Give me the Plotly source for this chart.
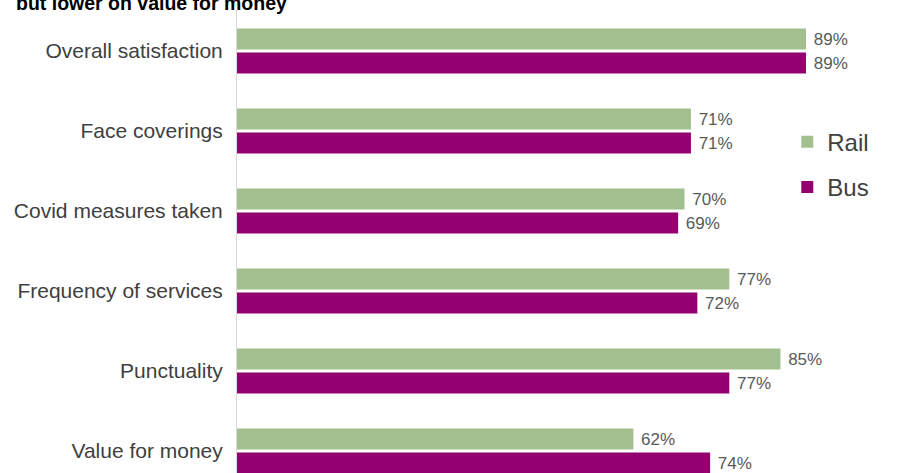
import plotly.graph_objects as go

# Survey measures, listed top to bottom
categories = [
    "Overall satisfaction",
    "Face coverings",
    "Covid measures taken",
    "Frequency of services",
    "Punctuality",
    "Value for money",
]
rail_pct = [89, 71, 70, 77, 85, 62]
bus_pct = [89, 71, 69, 72, 77, 74]

RAIL_COLOR = "#A4BF8E"
BUS_COLOR = "#930070"

W, H = 900, 473
M_L, M_T = 237, 10

fig = go.Figure()
for name, vals, color in [("Rail", rail_pct, RAIL_COLOR), ("Bus", bus_pct, BUS_COLOR)]:
    fig.add_trace(go.Bar(
        y=categories,
        x=vals,
        name=name,
        legendgroup=name,
        orientation="h",
        marker=dict(color=color, line=dict(width=0)),
        text=[f"\u00a0{v}%" for v in vals],
        textposition="outside",
        textfont=dict(family="Liberation Sans, Arial, sans-serif", size=17, color="#595959"),
        cliponaxis=False,
    ))

fig.add_annotation(
    text="<b>but lower on value for money</b>",
    xref="paper", yref="paper",
    x=-(M_L - 14) / (W - M_L), y=1.0, xanchor="left", yanchor="middle",
    yshift=7,
    showarrow=False,
    font=dict(family="Liberation Sans, Arial, sans-serif", size=19.5, color="#000000"),
)

fig.update_layout(
    width=W, height=H,
    margin=dict(l=M_L, r=0, t=M_T, b=0),
    paper_bgcolor="white",
    plot_bgcolor="white",
    barmode="group",
    bargap=0.4,
    bargroupgap=0.12,
    font=dict(family="Liberation Sans, Arial, sans-serif", color="#404040"),
    xaxis=dict(
        range=[0, 103.7],
        showgrid=False, zeroline=False, showticklabels=False, ticks="",
    ),
    yaxis=dict(
        type="category",
        range=[5.275, -0.5125],
        showgrid=False, zeroline=False,
        showline=True, linecolor="#D9D9D9", linewidth=1,
        ticks="outside", ticklen=9, tickcolor="rgba(0,0,0,0)",
        tickfont=dict(size=21, color="#404040"),
    ),
    legend=dict(
        x=0.83, y=0.763, xanchor="left", yanchor="top",
        font=dict(size=24, color="#404040"),
        traceorder="grouped",
        tracegroupgap=11,
        bgcolor="rgba(0,0,0,0)",
    ),
    showlegend=True,
)

fig.write_html("out.html")
